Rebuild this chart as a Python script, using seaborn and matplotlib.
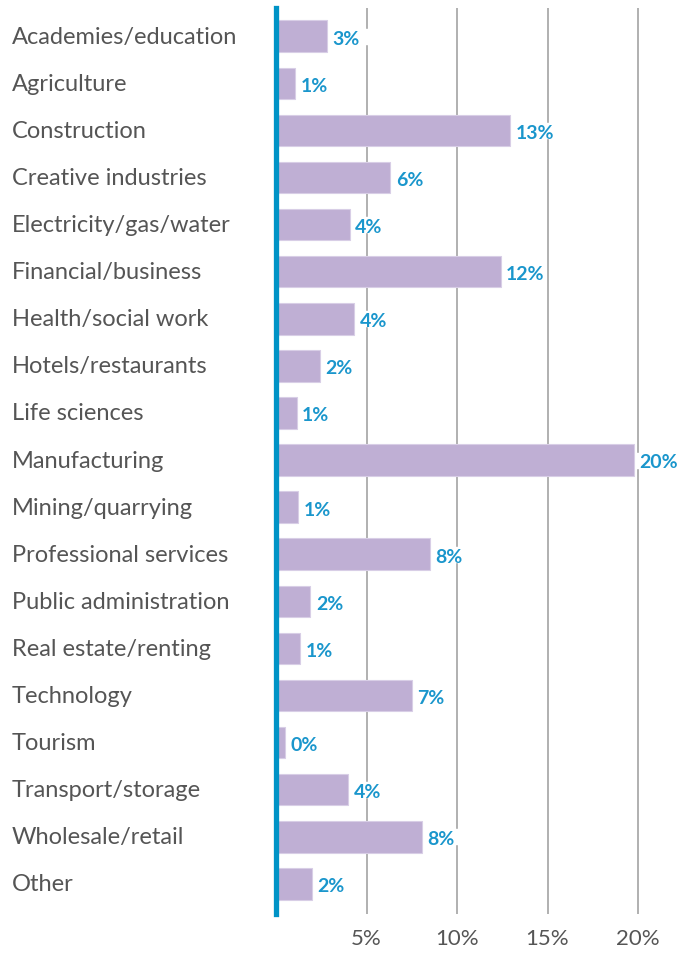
import matplotlib
matplotlib.use("Agg")
import matplotlib.pyplot as plt
import seaborn as sns
import pandas as pd

# Share of respondents by sector (%)
sectors = [
    "Academies/education", "Agriculture", "Construction", "Creative industries",
    "Electricity/gas/water", "Financial/business", "Health/social work",
    "Hotels/restaurants", "Life sciences", "Manufacturing", "Mining/quarrying",
    "Professional services", "Public administration", "Real estate/renting",
    "Technology", "Tourism", "Transport/storage", "Wholesale/retail", "Other",
]
shares = [2.8, 1.05, 12.93, 6.32, 4.08, 12.42, 4.33, 2.43, 1.14, 19.78,
          1.24, 8.49, 1.9, 1.35, 7.49, 0.49, 4.0, 8.06, 1.97]
share_labels = [f"{round(v)}%" for v in shares]
tick_values = [5, 10, 15, 20]
tick_labels = ["5%", "10%", "15%", "20%"]

BAR = "#BFAFD4"
BLUE = "#0093C6"
LABEL_BLUE = "#1A96CC"
GREY_TEXT = "#555555"
GRID = "#AAAAAA"

sns.set_theme(style="white")
plt.rcParams["font.family"] = ["Lato", "DejaVu Sans"]

df = pd.DataFrame({"sector": sectors, "share": shares})

fig = plt.figure(figsize=(6.93, 9.54), dpi=100)
ax = fig.add_axes([276 / 693, 39 / 954, 400 / 693, 906 / 954])

sns.barplot(data=df, x="share", y="sector", orient="h", color=BAR,
            saturation=1, width=0.67, edgecolor="#D8CEE6", linewidth=0.8,
            ax=ax, zorder=2)

# white backing behind the value labels so gridlines break around them
ax.barh(range(len(shares)), width=2.3, left=shares, height=0.32,
        color="white", zorder=1.5)

for i, (v, lab) in enumerate(zip(shares, share_labels)):
    ax.text(v + 0.3, i + 0.04, lab, ha="left", va="center", color=LABEL_BLUE,
            fontsize=14, fontweight="bold", zorder=4)

ax.set_xlim(0, 400 / 18.1)
ax.set_ylim(len(sectors) - 1 + 0.64, -0.6)

ax.set_axisbelow(True)
ax.xaxis.grid(True, color=GRID, linewidth=1.3)
ax.yaxis.grid(False)

for side in ["top", "right", "bottom"]:
    ax.spines[side].set_visible(False)
ax.spines["left"].set_color(BLUE)
ax.spines["left"].set_linewidth(3.8)
ax.spines["left"].set_zorder(5)

ax.set_xticks(tick_values, tick_labels)
ax.set_yticks(range(len(sectors)), sectors)
for t in ax.get_yticklabels():
    t.set_ha("left")
    t.set_va("center")
ax.tick_params(axis="y", length=0, pad=190, labelsize=17, labelcolor=GREY_TEXT)
ax.tick_params(axis="x", length=0, pad=10, labelsize=16, labelcolor=GREY_TEXT)
ax.set_xlabel("")
ax.set_ylabel("")

fig.savefig("out.png", dpi=100, facecolor="white")
